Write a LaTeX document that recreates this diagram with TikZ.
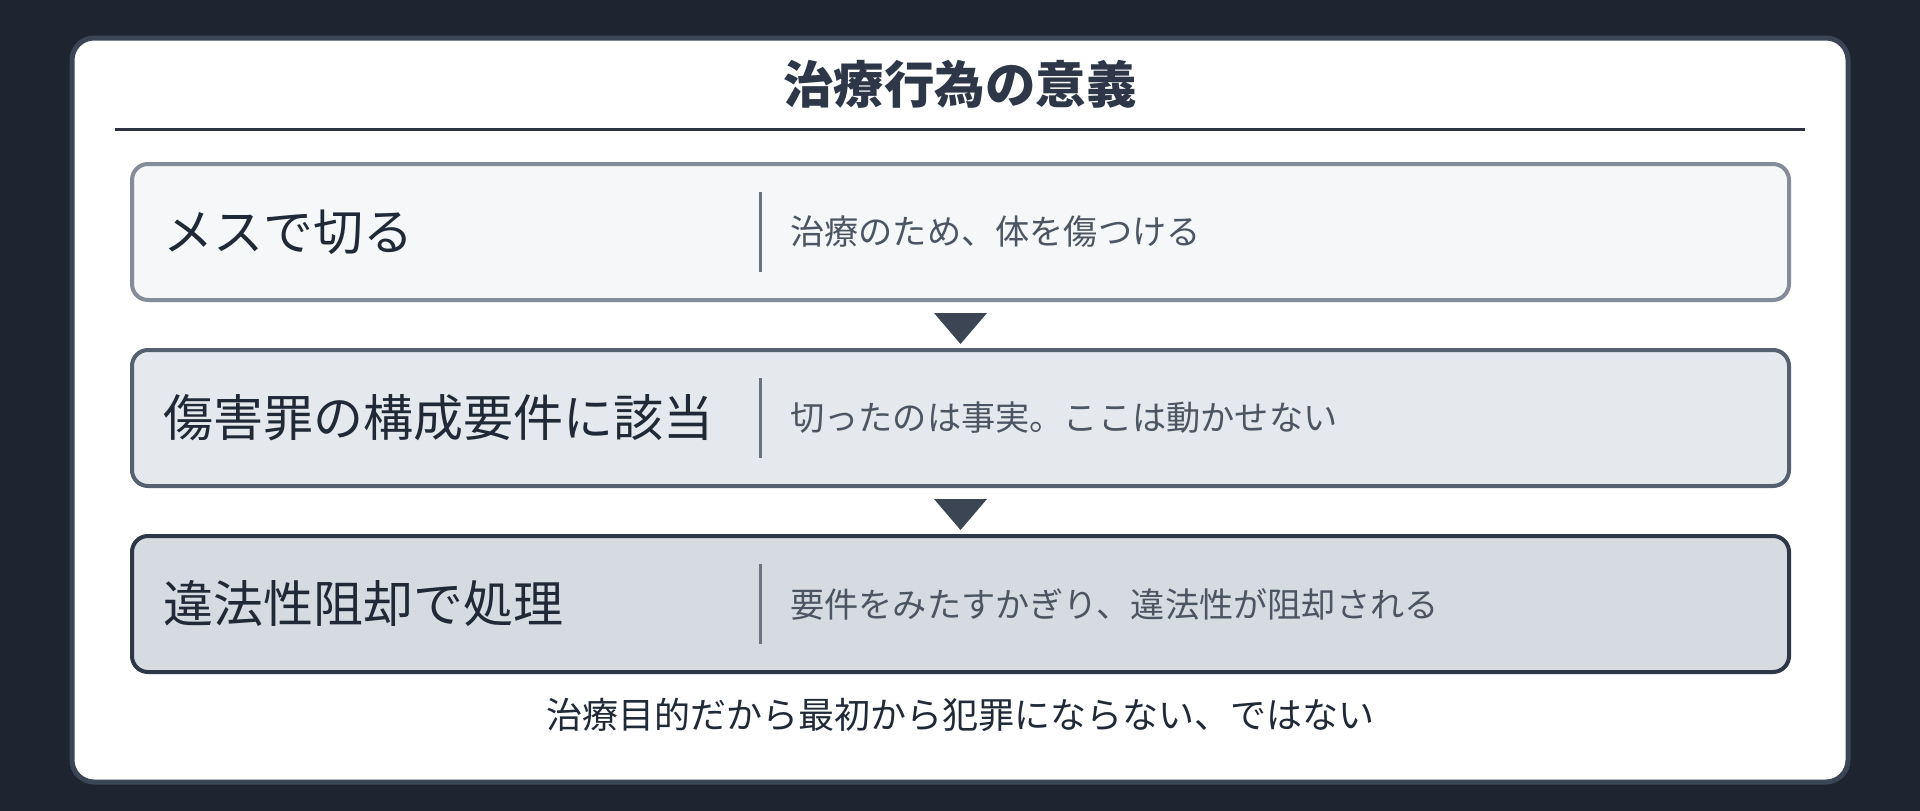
\documentclass[tikz,border=0pt]{standalone}
\usepackage{fontspec}
\setmainfont{Noto Sans CJK JP}
\usetikzlibrary{calc}
\definecolor{bgdark}{HTML}{1E2530}
\definecolor{cardedge}{HTML}{3A4555}
\definecolor{rulec}{HTML}{2D3340}
\definecolor{titlec}{HTML}{2D3748}
\definecolor{fillA}{HTML}{F5F7F9}
\definecolor{fillB}{HTML}{E5E8EC}
\definecolor{fillC}{HTML}{D6DBE2}
\definecolor{edgeA}{HTML}{848C99}
\definecolor{edgeB}{HTML}{556070}
\definecolor{edgeC}{HTML}{2D3748}
\definecolor{labelc}{HTML}{1F2937}
\definecolor{notec}{HTML}{4B5563}
\definecolor{divc}{HTML}{6B7280}
\definecolor{tric}{HTML}{3B4554}
\tikzset{
  stagebox/.style={draw, line width=4pt, rounded corners=16pt, minimum width=1657pt, minimum height=136pt, inner sep=0pt},
  mainlabel/.style={anchor=west, inner sep=0pt, text=labelc, font=\fontsize{50}{58}\selectfont},
  sidenote/.style={anchor=west, inner sep=0pt, text=notec, font=\fontsize{34.2}{40}\selectfont},
  divider/.style={draw=divc, line width=3pt},
  flowtri/.style={fill=tric, draw=none}
}
\begin{document}
\begin{tikzpicture}[x=1pt, y=-1pt]
\useasboundingbox (0,0) rectangle (1920,811);
\fill[bgdark] (0,0) rectangle (1920,811);
% card
\draw[cardedge, line width=5pt, fill=white, rounded corners=22pt] (72,38) rectangle (1848,782);
% title
\node[inner sep=0pt, text=titlec, font=\bfseries\fontsize{50.5}{58}\selectfont] (title) at (960,84) {治療行為の意義};
\coordinate (ruleL) at (115,129);
\coordinate (ruleR) at (1805,129);
\draw[rulec, line width=3pt] (ruleL) -- (ruleR);
% boxes
\node[stagebox, draw=edgeA, fill=fillA] (b1) at (960.5,232) {};
\node[stagebox, draw=edgeB, fill=fillB] (b2) at (960.5,418) {};
\node[stagebox, draw=edgeC, fill=fillC] (b3) at (960.5,604) {};
% dividers
\foreach \b in {b1,b2,b3}{
  \draw[divider] ($(\b.center)+(-200.5,-40)$) -- ($(\b.center)+(-200.5,40)$);
}
% labels
\node[mainlabel] (l1) at (163,232) {メスで切る};
\node[sidenote] (n1) at (790,232) {治療のため、体を傷つける};
\node[mainlabel] (l2) at (163,418) {傷害罪の構成要件に該当};
\node[sidenote] (n2) at (790,418) {切ったのは事実。ここは動かせない};
\node[mainlabel] (l3) at (163,604) {違法性阻却で処理};
\node[sidenote] (n3) at (790,604) {要件をみたすかぎり、違法性が阻却される};
% flow triangles
\fill[flowtri] ($(b1.south)+(-26.5,11)$) -- ($(b1.south)+(26.5,11)$) -- ($(b1.south)+(0,42)$) -- cycle;
\fill[flowtri] ($(b2.south)+(-26.5,11)$) -- ($(b2.south)+(26.5,11)$) -- ($(b2.south)+(0,42)$) -- cycle;
% footer
\node[inner sep=0pt, text=labelc, font=\fontsize{36}{42}\selectfont] (foot) at (960,715) {治療目的だから最初から犯罪にならない、ではない};
\end{tikzpicture}
\end{document}
